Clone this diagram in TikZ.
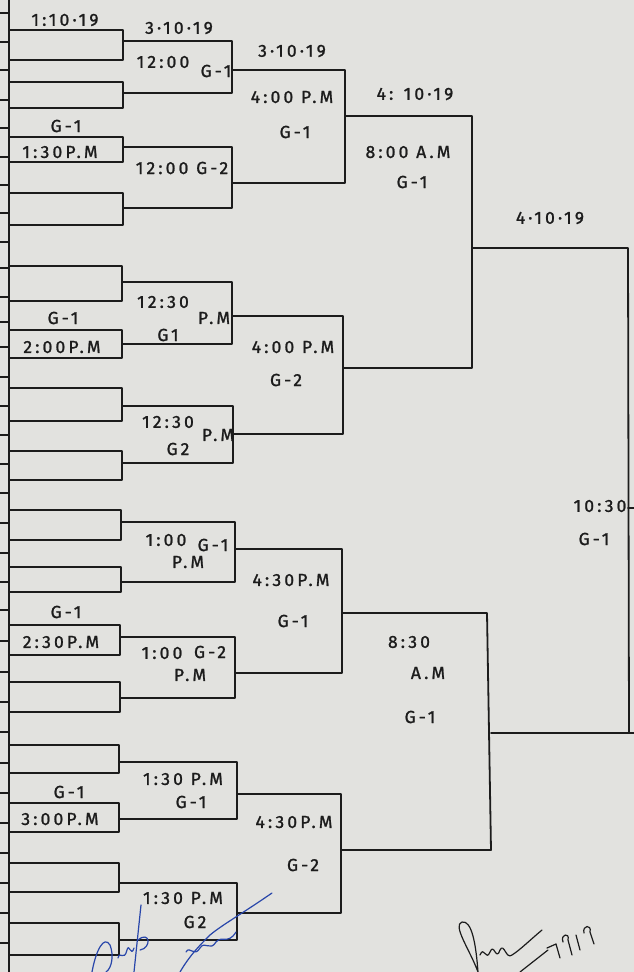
\documentclass[tikz,border=0pt]{standalone}
\usepackage{fontspec}
\setmainfont{Fira Sans}
\newfontfamily\handfont[LetterSpace=18,FakeBold=1.2]{Fira Sans}
\definecolor{paper}{RGB}{226,226,223}
\definecolor{ink}{RGB}{28,28,28}
\definecolor{bluink}{RGB}{40,70,170}
\begin{document}
\begin{tikzpicture}[x=1pt,y=-1pt,
  ln/.style={line width=1.8pt, draw=ink, line join=round, line cap=round},
  tk/.style={line width=1.3pt, draw=ink},
  lbl/.style={font=\handfont\fontsize{17.5}{17.5}\selectfont, text=ink, inner sep=0pt},
  sig/.style={line width=1.2pt, line cap=round, line join=round},
]
\fill[paper] (0,0) rectangle (634,972);
\useasboundingbox (0,0) rectangle (634,972);

% left ticks and spine
\foreach \y in {13,42,70,100,128,157,185,213,242,268,297,322,347,377,406,435,464,493,523,553,582,610,641,672,702,732,763,793,823,853,883,913,943}
  \draw[tk] (0,\y) -- (8,\y);
\coordinate (spinetop) at (9,0);
\coordinate (spinebot) at (9,972);
\draw[ln] (spinetop) -- (spinebot);

% round 1
\foreach \a/\b/\xe [count=\i] in {30/60/123,82/108/123,137/162/123,193/225/123,266/301/122,330/358/122,388/421/122,451/480/122,510/540/121,567/592/121,625/655/120,682/712/120,745/773/119,803/832/119,863/892/119,923/955/119}{
  \coordinate (ra\i) at (9,\a);
  \coordinate (rb\i) at (9,\b);
  \draw[ln] (ra\i) -- (\xe,\a) -- (\xe,\b) -- (rb\i);
}

% round 2
\foreach \a/\b/\xs/\xe [count=\i] in {41/93/123/232,147/208/123/232,282/344/122/232,406/463/122/233,522/582/121/235,637/698/120/235,762/819/119/237,883/940/119/237}{
  \coordinate (sa\i) at (\xs,\a);
  \coordinate (sb\i) at (\xs,\b);
  \draw[ln] (sa\i) -- (\xe,\a) -- (\xe,\b) -- (sb\i);
}

% round 3
\foreach \a/\b/\xs/\xe [count=\i] in {70/183/232/345,316/434/232/343,549/673/235/342,794/913/237/341}{
  \coordinate (qa\i) at (\xs,\a);
  \coordinate (qb\i) at (\xs,\b);
  \draw[ln] (qa\i) -- (\xe,\a) -- (\xe,\b) -- (qb\i);
}

% semi finals
\coordinate (s1a) at (345,116);
\coordinate (s1b) at (343,368);
\draw[ln] (s1a) -- (472,116) -- (472,368) -- (s1b);
\coordinate (s2a) at (342,613);
\coordinate (s2b) at (341,850);
\draw[ln] (s2a) -- (487,613) -- (491,850) -- (s2b);

% final
\coordinate (fa) at (472,248);
\coordinate (fb) at (491,733);
\coordinate (fend) at (634,733);
\draw[ln] (fa) -- (628,248) -- (629,733);
\draw[ln] (fb) -- (fend);
\coordinate (fout) at (634,508);
\coordinate (fmid) at (628,508);
\draw[ln] (fmid) -- (fout);

% labels
\node[lbl] (l1) at (65,20) {1:10·19};
\node[lbl] (l2) at (179,28) {3·10·19};
\node[lbl] (l3) at (163,62) {12:00};
\node[lbl] (l4) at (216,71) {G-1};
\node[lbl] (l5) at (292,51) {3·10·19};
\node[lbl] (l6) at (292,97) {4:00 P.M};
\node[lbl] (l7) at (295,132) {G-1};
\node[lbl] (l8) at (415,94) {4: 10·19};
\node[lbl] (l9) at (408,152) {8:00 A.M};
\node[lbl] (l10) at (412,182) {G-1};
\node[lbl] (l11) at (66,126) {G-1};
\node[lbl] (l12) at (60,152) {1:30P.M};
\node[lbl] (l13) at (182,168) {12:00 G-2};
\node[lbl] (l14) at (163,302) {12:30};
\node[lbl] (l15) at (214,318) {P.M};
\node[lbl] (l16) at (168,335) {G1};
\node[lbl] (l17) at (63,318) {G-1};
\node[lbl] (l18) at (62,347) {2:00P.M};
\node[lbl] (l19) at (293,347) {4:00 P.M};
\node[lbl] (l20) at (286,380) {G-2};
\node[lbl] (l21) at (168,422) {12:30};
\node[lbl] (l22) at (218,435) {P.M};
\node[lbl] (l23) at (178,449) {G2};
\node[lbl] (l24) at (550,218) {4·10·19};
\node[lbl] (l25) at (600,506) {10:30};
\node[lbl] (l26) at (594,539) {G-1};
\node[lbl] (l27) at (166,540) {1:00};
\node[lbl] (l28) at (213,545) {G-1};
\node[lbl] (l29) at (188,562) {P.M};
\node[lbl] (l30) at (291,580) {4:30P.M};
\node[lbl] (l31) at (293,621) {G-1};
\node[lbl] (l32) at (66,612) {G-1};
\node[lbl] (l33) at (61,642) {2:30P.M};
\node[lbl] (l34) at (162,653) {1:00};
\node[lbl] (l35) at (210,652) {G-2};
\node[lbl] (l36) at (190,675) {P.M};
\node[lbl] (l37) at (409,642) {8:30};
\node[lbl] (l38) at (428,673) {A.M};
\node[lbl] (l39) at (420,717) {G-1};
\node[lbl] (l40) at (69,792) {G-1};
\node[lbl] (l41) at (60,819) {3:00P.M};
\node[lbl] (l42) at (183,779) {1:30 P.M};
\node[lbl] (l43) at (191,802) {G-1};
\node[lbl] (l44) at (294,822) {4:30P.M};
\node[lbl] (l45) at (303,865) {G-2};
\node[lbl] (l46) at (183,898) {1:30 P.M};
\node[lbl] (l47) at (195,922) {G2};

% signatures (scribbles)
\draw[sig, draw=bluink] (92,972) .. controls (96,950) and (104,935) .. (110,945)
  .. controls (114,955) and (112,968) .. (106,972);
\draw[sig, draw=bluink] (118,958) .. controls (120,950) and (124,962) .. (127,950)
  .. controls (129,942) and (131,958) .. (134,948);
\draw[sig, draw=bluink] (134,972) -- (141,905);
\draw[sig, draw=bluink] (138,940) .. controls (150,930) and (152,948) .. (140,950);
\draw[sig, draw=bluink] (180,972) .. controls (190,955) and (200,945) .. (210,935)
  .. controls (222,925) and (240,915) .. (272,893);
\draw[sig, draw=bluink] (186,952) .. controls (190,945) and (194,958) .. (200,948)
  .. controls (205,940) and (210,952) .. (216,942) .. controls (222,935) and (228,945) .. (236,932);
\draw[sig, draw=ink] (478,972) .. controls (470,950) and (452,925) .. (462,922)
  .. controls (472,920) and (476,945) .. (478,972);
\draw[sig, draw=ink] (480,955) .. controls (484,945) and (486,962) .. (490,952)
  .. controls (494,942) and (496,962) .. (500,950) .. controls (504,942) and (506,960) .. (512,955)
  .. controls (520,950) and (530,940) .. (542,930);
\draw[sig, draw=ink] (520,972) -- (548,950);
\draw[sig, draw=ink] (547,948) -- (556,944) -- (560,958);
\draw[sig, draw=ink] (563,942) .. controls (560,934) and (570,932) .. (568,940) -- (572,955);
\draw[sig, draw=ink] (576,935) -- (580,950);
\draw[sig, draw=ink] (584,933) .. controls (582,925) and (592,924) .. (590,932) -- (594,944);
\end{tikzpicture}
\end{document}
